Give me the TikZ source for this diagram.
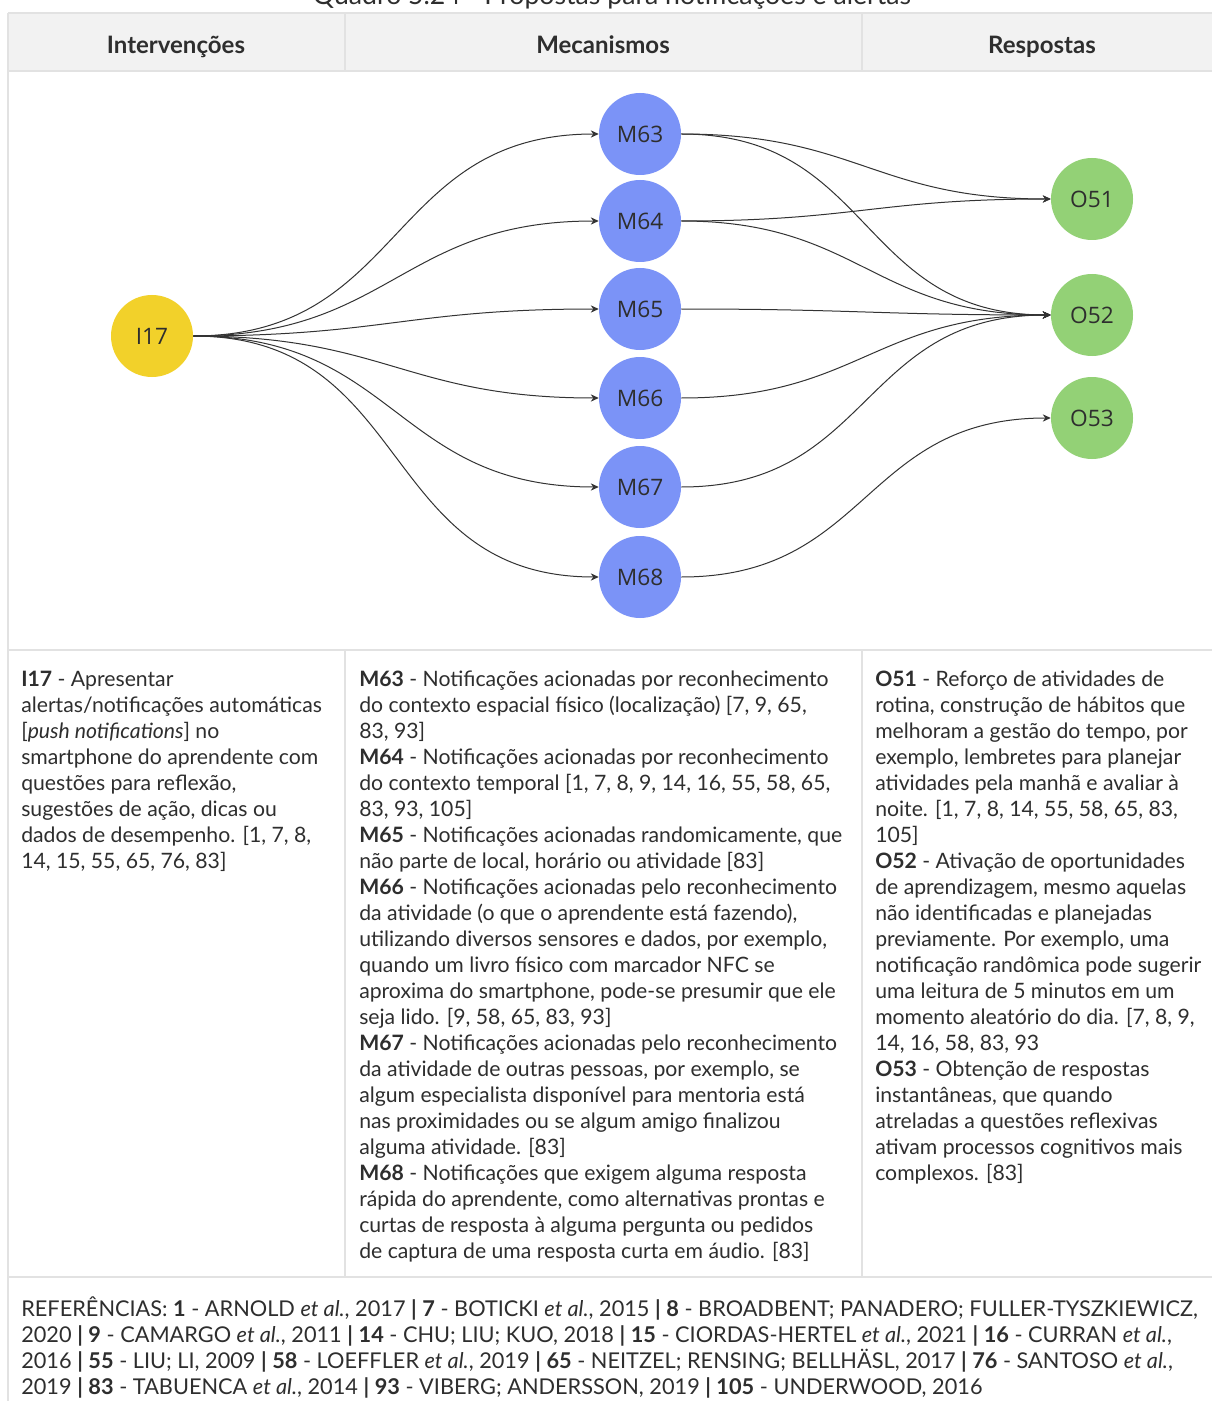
\documentclass[tikz,border=0pt]{standalone}
\usepackage{fontspec}
\setmainfont{Lato}
\newfontfamily\nodefont{Open Sans}
\usetikzlibrary{arrows.meta}
\definecolor{gridc}{HTML}{E2E2E2}
\definecolor{headgray}{HTML}{F2F2F2}
\definecolor{iyellow}{HTML}{F2D12A}
\definecolor{mblue}{HTML}{7B93F7}
\definecolor{ogreen}{HTML}{93D176}
\definecolor{txt}{HTML}{2E2E2E}
\definecolor{edgec}{HTML}{333333}
\begin{document}
\begin{tikzpicture}[x=0.75pt,y=-0.75pt,
  gridline/.style={draw=gridc,line width=1.5pt},
  headlabel/.style={anchor=base,font=\fontsize{18}{20}\selectfont\bfseries,text=txt,inner sep=0},
  circ/.style={circle,minimum size=61.5pt,inner sep=0,font=\nodefont\fontsize{17}{20}\selectfont,text=txt},
  inode/.style={circ,fill=iyellow},
  mnode/.style={circ,fill=mblue},
  onode/.style={circ,fill=ogreen},
  edge/.style={draw=edgec,line width=0.75pt,-{Stealth[length=6pt,width=5.5pt]},out=0,in=180,looseness=1.2},
  bodytext/.style={anchor=north west,inner sep=0,align=left,text=txt,font=\fontsize{15.9}{19.5}\selectfont},
  reftext/.style={bodytext,font=\fontsize{16.3}{19.5}\selectfont}
]
\useasboundingbox (0,0) rectangle (1211,1401);
\fill[white] (0,0) rectangle (1211,1401);
% title (cut off at top, as in the reference)
\node[anchor=base,inner sep=0,font=\fontsize{20}{22}\selectfont,text=txt] (title) at (612,5) {Quadro 5.24 - Propostas para notificações e alertas};
% header
\fill[headgray] (8,13) rectangle (1230,71);
\draw[gridline] (8,13) -- (1230,13);
\draw[gridline] (8,71) -- (1230,71);
\draw[gridline] (8,13) -- (8,1420);
\draw[gridline] (345,13) -- (345,71);
\draw[gridline] (862,13) -- (862,71);
\draw[gridline] (8,650) -- (1230,650);
\draw[gridline] (345,650) -- (345,1277);
\draw[gridline] (862,650) -- (862,1277);
\draw[gridline] (8,1277) -- (1230,1277);
\node[headlabel] (hI) at (176,54) {Intervenções};
\node[headlabel] (hM) at (603,54) {Mecanismos};
\node[headlabel] (hR) at (1042,54) {Respostas};
% nodes
\node[inode] (I17) at (152,336) {I17};
\node[mnode] (M63) at (640,134) {M63};
\node[mnode] (M64) at (640,221) {M64};
\node[mnode] (M65) at (640,309) {M65};
\node[mnode] (M66) at (640,398) {M66};
\node[mnode] (M67) at (640,487) {M67};
\node[mnode] (M68) at (640,577) {M68};
\node[onode] (O51) at (1092,199) {O51};
\node[onode] (O52) at (1092,315) {O52};
\node[onode] (O53) at (1092,418) {O53};
% edges
\foreach \m in {M63,M64,M65,M66,M67,M68}{
  \draw[edge] (I17.east) to (\m.west);
}
\draw[edge] (M63.east) to (O51.west);
\draw[edge] (M64.east) to (O51.west);
\draw[edge] (M63.east) to (O52.west);
\draw[edge] (M64.east) to (O52.west);
\draw[edge] (M65.east) to (O52.west);
\draw[edge] (M66.east) to (O52.west);
\draw[edge] (M67.east) to (O52.west);
\draw[edge] (M68.east) to (O53.west);
% text columns
\node[bodytext] (tI) at (21,668) {\strut\textbf{I17} - Apresentar\\
alertas/notificações automáticas\\{}%
[\textit{push notifications}] no\\
smartphone do aprendente com\\
questões para reflexão,\\
sugestões de ação, dicas ou\\
dados de desempenho. [1, 7, 8,\\
14, 15, 55, 65, 76, 83]};
\node[bodytext] (tM) at (359,668) {\strut\textbf{M63} - Notificações acionadas por reconhecimento\\
do contexto espacial físico (localização) [7, 9, 65,\\
83, 93]\\
\textbf{M64} - Notificações acionadas por reconhecimento\\
do contexto temporal [1, 7, 8, 9, 14, 16, 55, 58, 65,\\
83, 93, 105]\\
\textbf{M65} - Notificações acionadas randomicamente, que\\
não parte de local, horário ou atividade [83]\\
\textbf{M66} - Notificações acionadas pelo reconhecimento\\
da atividade (o que o aprendente está fazendo),\\
utilizando diversos sensores e dados, por exemplo,\\
quando um livro físico com marcador NFC se\\
aproxima do smartphone, pode-se presumir que ele\\
seja lido. [9, 58, 65, 83, 93]\\
\textbf{M67} - Notificações acionadas pelo reconhecimento\\
da atividade de outras pessoas, por exemplo, se\\
algum especialista disponível para mentoria está\\
nas proximidades ou se algum amigo finalizou\\
alguma atividade. [83]\\
\textbf{M68} - Notificações que exigem alguma resposta\\
rápida do aprendente, como alternativas prontas e\\
curtas de resposta à alguma pergunta ou pedidos\\
de captura de uma resposta curta em áudio. [83]};
\node[bodytext] (tO) at (875,668) {\strut\textbf{O51} - Reforço de atividades de\\
rotina, construção de hábitos que\\
melhoram a gestão do tempo, por\\
exemplo, lembretes para planejar\\
atividades pela manhã e avaliar à\\
noite. [1, 7, 8, 14, 55, 58, 65, 83,\\
105]\\
\textbf{O52} - Ativação de oportunidades\\
de aprendizagem, mesmo aquelas\\
não identificadas e planejadas\\
previamente. Por exemplo, uma\\
notificação randômica pode sugerir\\
uma leitura de 5 minutos em um\\
momento aleatório do dia. [7, 8, 9,\\
14, 16, 58, 83, 93\\
\textbf{O53} - Obtenção de respostas\\
instantâneas, que quando\\
atreladas a questões reflexivas\\
ativam processos cognitivos mais\\
complexos. [83]};
% references
\node[reftext] (refs) at (21,1296) {\strut REFERÊNCIAS: \textbf{1} - ARNOLD \textit{et al.}, 2017 \textbf{|} \textbf{7} - BOTICKI \textit{et al.}, 2015 \textbf{|} \textbf{8} - BROADBENT; PANADERO; FULLER-TYSZKIEWICZ,\\
2020 \textbf{|} \textbf{9} - CAMARGO \textit{et al.}, 2011 \textbf{|} \textbf{14} - CHU; LIU; KUO, 2018 \textbf{|} \textbf{15} - CIORDAS-HERTEL \textit{et al.}, 2021 \textbf{|} \textbf{16} - CURRAN \textit{et al.},\\
2016 \textbf{|} \textbf{55} - LIU; LI, 2009 \textbf{|} \textbf{58} - LOEFFLER \textit{et al.}, 2019 \textbf{|} \textbf{65} - NEITZEL; RENSING; BELLHÄSL, 2017 \textbf{|} \textbf{76} - SANTOSO \textit{et al.},\\
2019 \textbf{|} \textbf{83} - TABUENCA \textit{et al.}, 2014 \textbf{|} \textbf{93} - VIBERG; ANDERSSON, 2019 \textbf{|} \textbf{105} - UNDERWOOD, 2016};
\end{tikzpicture}
\end{document}
